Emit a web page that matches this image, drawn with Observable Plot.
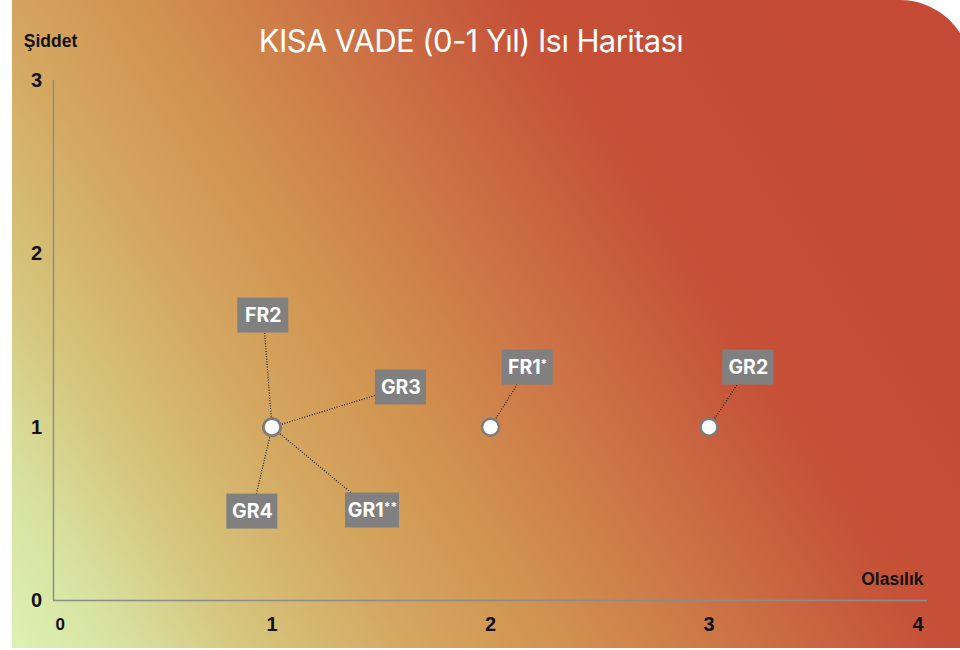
<!DOCTYPE html>
<html>
<head>
<meta charset="utf-8">
<script src="https://cdn.jsdelivr.net/npm/d3@7"></script>
<script src="https://cdn.jsdelivr.net/npm/@observablehq/plot@0.6"></script>
<style>
  html, body { margin: 0; padding: 0; background: #fff; }
  #wrap { position: relative; width: 960px; height: 650px; overflow: hidden; background: #fff; }
  #bg {
    position: absolute; left: 12px; top: 0; width: 959px; height: 648px;
    border-top-right-radius: 71px;
    background: linear-gradient(57deg,
      #dcf2b4 0%, #d8e2a0 8%, #d6c67e 17%, #d4a760 29%, #d1924f 40%,
      #ce7c49 49%, #c96440 59%, #c55137 67%, #c44b35 82%, #c44a35 100%);
  }
  #chart { position: absolute; left: 0; top: 0; }
  #title {
    position: absolute; left: 0; width: 942px; top: 25px; text-align: center;
    font-family: Inter, "Noto Sans", sans-serif; font-weight: 400; font-size: 31px;
    letter-spacing: -0.6px; line-height: 1; color: #fff; white-space: nowrap;
  }
</style>
</head>
<body>
<div id="wrap">
  <div id="bg"></div>
  <div id="chart"></div>
  <div id="title">KISA VADE (0-1 Yıl) Isı Haritası</div>
</div>
<script>
// ---- data ----
const riskIds     = ["FR2", "GR3", "GR4", "GR1**", "FR1*", "GR2"];
const probability = [1, 1, 1, 1, 2, 3];          // Olasılık
const severity    = [1, 1, 1, 1, 1, 1];          // Şiddet
const labelProb   = [0.96, 1.59, 0.91, 1.46, 2.17, 3.18]; // label anchor (data units)
const labelSev    = [1.644, 1.229, 0.513, 0.519, 1.344, 1.344];
const xTicks = [0, 1, 2, 3, 4];
const yTicks = [0, 1, 2, 3];
const xTitle = "Olasılık";
const yTitle = "Şiddet";

const risks = riskIds.map((id, i) => ({
  id, x: probability[i], y: severity[i], lx: labelProb[i], ly: labelSev[i]
}));

const axisFont = "'Liberation Sans', Arial, sans-serif";
const labelFont = "Inter, 'Noto Sans', sans-serif";

const chart = Plot.plot({
  width: 960,
  height: 650,
  marginLeft: 53,
  marginRight: 33,
  marginTop: 80,
  marginBottom: 50,
  x: { domain: [0, 4], axis: null },
  y: { domain: [0, 3], axis: null },
  style: { background: "transparent", overflow: "visible" },
  marks: [
    // axis lines
    Plot.ruleX([0], { x: d => d, y1: () => 0, y2: () => 3, stroke: "#8c8c8c", strokeWidth: 1.4 }),
    Plot.ruleY([0], { y: d => d, x1: () => 0, x2: () => 4, stroke: "#8c8c8c", strokeWidth: 1.4 }),
    // y tick labels
    Plot.text(yTicks, {
      x: () => 0, y: d => d, text: d => String(d), dx: -17,
      textAnchor: "middle", fontSize: 20, fontWeight: 700, fontFamily: axisFont, fill: "#111"
    }),
    // x tick labels
    Plot.text(xTicks.filter(d => d === xTicks[0]), {
      x: d => d, y: () => 0, text: d => String(d), dx: 2, dy: 24,
      textAnchor: "start", fontSize: 17, fontWeight: 700, fontFamily: axisFont, fill: "#111"
    }),
    Plot.text(xTicks.filter(d => d !== xTicks[0] && d !== xTicks[xTicks.length - 1]), {
      x: d => d, y: () => 0, text: d => String(d), dy: 24,
      textAnchor: "middle", fontSize: 20, fontWeight: 700, fontFamily: axisFont, fill: "#111"
    }),
    Plot.text(xTicks.filter(d => d === xTicks[xTicks.length - 1]), {
      x: d => d, y: () => 0, text: d => String(d), dx: -4, dy: 24,
      textAnchor: "end", fontSize: 20, fontWeight: 700, fontFamily: axisFont, fill: "#111"
    }),
    // axis titles
    Plot.text([yTitle], {
      x: () => 0, y: () => 3, text: d => d, dx: -3, dy: -39,
      textAnchor: "middle", fontSize: 17.5, fontWeight: 700, fontFamily: axisFont, fill: "#111"
    }),
    Plot.text([xTitle], {
      x: () => 4, y: () => 0, text: d => d, dx: -4, dy: -21,
      textAnchor: "end", fontSize: 17.5, fontWeight: 700, fontFamily: axisFont, fill: "#111"
    }),
    // leader lines
    Plot.link(risks, {
      x1: "x", y1: "y", x2: "lx", y2: "ly",
      stroke: "#1a1a1a", strokeWidth: 1.2, strokeDasharray: "1,1.6"
    }),
    // label boxes
    Plot.rect(risks.filter(d => d.id.length <= 4), {
      x1: "lx", x2: "lx", y1: "ly", y2: "ly",
      insetLeft: -25.5, insetRight: -25.5, insetTop: -17.5, insetBottom: -17.5,
      fill: "#808080"
    }),
    Plot.rect(risks.filter(d => d.id.length > 4), {
      x1: "lx", x2: "lx", y1: "ly", y2: "ly",
      insetLeft: -27, insetRight: -27, insetTop: -17.5, insetBottom: -17.5,
      fill: "#808080"
    }),
    Plot.text(risks, {
      x: "lx", y: "ly", text: "id", fill: "#fff",
      fontSize: 19.5, fontWeight: 700, fontFamily: labelFont
    }),
    // points
    Plot.dot(risks, {
      x: "x", y: "y", r: 8.5, fill: "#fff", stroke: "#7b7b7b", strokeWidth: 2.5
    })
  ]
});

document.getElementById("chart").appendChild(chart);

// raise trailing asterisks as superscripts
d3.select(chart).selectAll("text").each(function () {
  const el = d3.select(this);
  const t = this.textContent;
  const m = /^(.*?)(\*+)$/.exec(t);
  if (m && t.length > 1) {
    el.text(null);
    el.append("tspan").text(m[1]);
    el.append("tspan").attr("font-size", 12).attr("dy", "-0.45em").text(m[2]);
  }
});
</script>
</body>
</html>
